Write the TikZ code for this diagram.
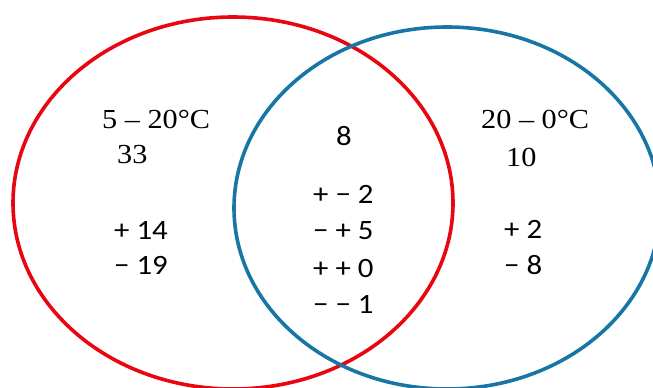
\documentclass[tikz,border=0pt]{standalone}
\usepackage{fontspec}
\setmainfont{Liberation Serif}
\newfontfamily\numfont{Carlito}
\definecolor{vred}{RGB}{232,6,16}
\definecolor{vblue}{RGB}{24,118,166}
\newcommand{\wide}[1]{\scalebox{1.1}[1]{#1}}
\tikzset{
  ring/.style={line width=3.6pt},
  hd/.style={anchor=base west, inner sep=0pt, font=\fontsize{27.5}{30}\selectfont},
  nm/.style={anchor=base west, inner sep=0pt, font=\numfont\fontsize{28}{30}\selectfont},
}
\begin{document}
\begin{tikzpicture}[x=1pt,y=-1pt]
\useasboundingbox (0,0) rectangle (653,388);
\begin{scope}
\clip (0,0) rectangle (653,388);
\draw[ring, vred] (233,203) ellipse [x radius=220, y radius=186];
\draw[ring, vblue] (447,208) ellipse [x radius=213, y radius=181];
\end{scope}
\node[hd] (lh) at (102,128) {\wide{5 – 20°C}};
\node[hd] (ln) at (117,163) {\wide{33}};
\node[nm] (lp) at (114,239) {\wide{+ 14}};
\node[nm] (lm) at (114,274) {\wide{− 19}};
\node[nm] (c8) at (336,145) {\wide{8}};
\node[nm] (c1) at (313,203) {\wide{+ − 2}};
\node[nm] (c2) at (313,239) {\wide{− + 5}};
\node[nm] (c3) at (313,277) {\wide{+ + 0}};
\node[nm] (c4) at (313,313) {\wide{− − 1}};
\node[hd] (rh) at (481,128) {\wide{20 – 0°C}};
\node[hd] (rn) at (506,166) {\wide{10}};
\node[nm] (rp) at (504,238) {\wide{+ 2}};
\node[nm] (rm) at (504,274) {\wide{− 8}};
\end{tikzpicture}
\end{document}
